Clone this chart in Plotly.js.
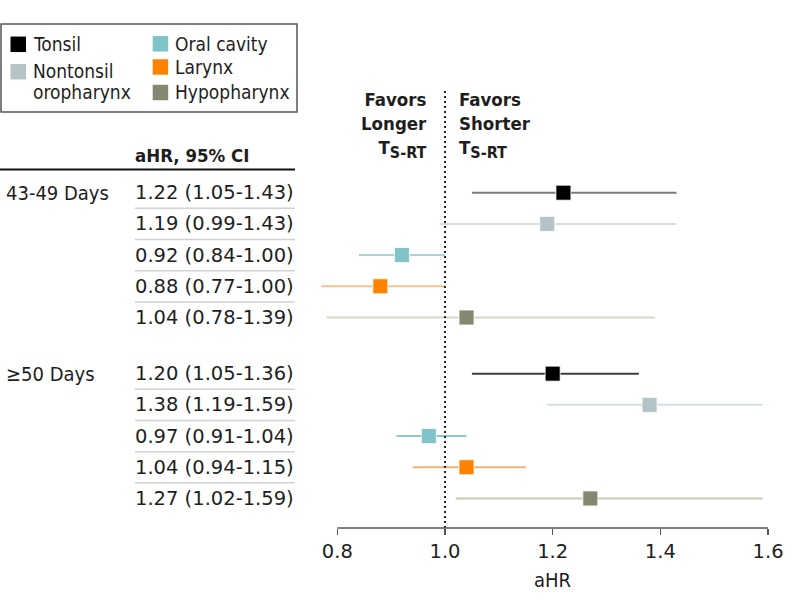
<!DOCTYPE html>
<html>
<head>
<meta charset="utf-8">
<script src="https://cdn.plot.ly/plotly-3.0.1.min.js"></script>
<style>html,body{margin:0;padding:0;background:#fff;}#chart{width:798px;height:612px;}</style>
</head>
<body>
<div id="chart"></div>
<script>
// ---- data ----
const sites = ['Tonsil', 'Nontonsil oropharynx', 'Oral cavity', 'Larynx', 'Hypopharynx'];
const groups = ['43-49 Days', '≥50 Days'];
const hr_43_49 = [1.22, 1.19, 0.92, 0.88, 1.04];
const lo_43_49 = [1.05, 0.99, 0.84, 0.77, 0.78];
const hi_43_49 = [1.43, 1.43, 1.00, 1.00, 1.39];
const hr_50 = [1.20, 1.38, 0.97, 1.04, 1.27];
const lo_50 = [1.05, 1.19, 0.91, 0.94, 1.02];
const hi_50 = [1.36, 1.59, 1.04, 1.15, 1.59];
const xTicks = [0.8, 1.0, 1.2, 1.4, 1.6];
const xTickText = ['0.8', '1.0', '1.2', '1.4', '1.6'];

// ---- styles ----
const W = 798, H = 612, PLOT_H = 528;
const FONT = 'DejaVu Sans Condensed, DejaVu Sans, sans-serif';
const NUMFONT = 'DejaVu Sans, sans-serif';
const TXT = '#1e1e1e';
const markerColors = ['#000000', '#b3c3c6', '#80c3c8', '#ff8200', '#838870'];
const lineColors = [
  ['#7c7c7c', '#d4dddf', '#a8d4d7', '#f5c28e', '#d7d6c7'],
  ['#3c3c3c', '#d4dddf', '#8fc6c9', '#f2b273', '#c9c9b7']
];
const GROUP_OFFSET = 5.8;
const hrs = [hr_43_49, hr_50], los = [lo_43_49, lo_50], his = [hi_43_49, hi_50];
const pos = (g, i) => g * GROUP_OFFSET + i;
const fmt = v => v.toFixed(2);

const px = x => x / W;
const py = y => 1 - y / PLOT_H;

const traces = [];
groups.forEach((g, gi) => {
  sites.forEach((s, si) => {
    traces.push({
      type: 'scatter', mode: 'lines',
      x: [los[gi][si], his[gi][si]], y: [pos(gi, si), pos(gi, si)],
      line: {color: lineColors[gi][si], width: 2},
      showlegend: false, hoverinfo: 'skip'
    });
  });
});
sites.forEach((s, si) => {
  traces.push({
    type: 'scatter', mode: 'markers', name: s,
    x: groups.map((g, gi) => hrs[gi][si]),
    y: groups.map((g, gi) => pos(gi, si)),
    marker: {symbol: 'square', size: 15, color: markerColors[si], line: {color: 'rgba(255,255,255,0.8)', width: 1}},
    showlegend: false, cliponaxis: false
  });
});

const shapes = [];
const annotations = [];
const ann = (text, xpx, ypx, opts) => annotations.push(Object.assign({
  text, xref: 'paper', yref: 'paper', x: px(xpx), y: py(ypx),
  xanchor: 'left', yanchor: 'middle', showarrow: false,
  font: {family: FONT, size: 19, color: TXT}
}, opts || {}));

// legend box
shapes.push({type: 'rect', xref: 'paper', yref: 'paper', x0: px(1), x1: px(297), y0: py(24), y1: py(112),
  line: {color: '#555', width: 1.5}, fillcolor: 'rgba(0,0,0,0)'});
const legPos = [[10.5, 44.3], [10.5, 71.7], [152.7, 43.8], [152.7, 67], [152.7, 92.5]];
const legText = [['Tonsil'], ['Nontonsil', 'oropharynx'], ['Oral cavity'], ['Larynx'], ['Hypopharynx']];
const legTextY = [[43.5], [70.7, 92], [43.5], [67.5], [92.5]];
sites.forEach((s, si) => {
  const [lx, ly] = legPos[si];
  shapes.push({type: 'rect', xref: 'paper', yref: 'paper', x0: px(lx), x1: px(lx + 15.5),
    y0: py(ly - 7.75), y1: py(ly + 7.75), line: {width: 0}, fillcolor: markerColors[si]});
  legText[si].forEach((t, k) => ann(t, lx + 22, legTextY[si][k], {xshift: -2}));
});

// header
ann('<b>aHR, 95% CI</b>', 133, 155, {font: {family: FONT, size: 18.5, color: TXT}});
shapes.push({type: 'line', xref: 'paper', yref: 'paper', x0: px(0), x1: px(295), y0: py(169.5), y1: py(169.5),
  line: {color: '#111', width: 2}});

// rows text
groups.forEach((g, gi) => {
  annotations.push({text: g, xref: 'paper', yref: 'y', x: px(4), y: pos(gi, 0), xanchor: 'left', yanchor: 'middle',
    showarrow: false, font: {family: FONT, size: 20, color: TXT}});
  sites.forEach((s, si) => {
    annotations.push({text: fmt(hrs[gi][si]) + ' (' + fmt(los[gi][si]) + '-' + fmt(his[gi][si]) + ')',
      xref: 'paper', yref: 'y', x: px(133), y: pos(gi, si), xanchor: 'left', yanchor: 'middle',
      showarrow: false, font: {family: NUMFONT, size: 19.5, color: TXT}});
    if (si < sites.length - 1) {
      shapes.push({type: 'line', xref: 'paper', yref: 'y', x0: px(135), x1: px(295),
        y0: pos(gi, si) + 0.5, y1: pos(gi, si) + 0.5, line: {color: '#d2d2d2', width: 1.5}});
    }
  });
});

// reference line at 1.0
shapes.push({type: 'line', xref: 'x', yref: 'paper', x0: 1.0, x1: 1.0, y0: 0, y1: py(88),
  line: {color: '#222', width: 2, dash: '2px,3px'}});
// axis line
shapes.push({type: 'line', xref: 'x', yref: 'paper', x0: xTicks[0], x1: xTicks[xTicks.length - 1], y0: 0, y1: 0,
  line: {color: '#555', width: 1.5}});

// favors labels
const sub = '<sub><span style="font-size:16px">S-RT</span></sub>';
ann('<b>Favors<br>Longer<br>T' + sub + '</b>', 429, 125, {xanchor: 'right', align: 'right',
  font: {family: FONT, size: 18.5, color: TXT}});
ann('<b>Favors<br>Shorter<br>T' + sub + '</b>', 457, 125, {xanchor: 'left', align: 'left',
  font: {family: FONT, size: 18.5, color: TXT}});

// x-axis title
annotations.push({text: 'aHR', xref: 'x', yref: 'paper', x: 1.2, y: 0, yshift: -52, xanchor: 'center', yanchor: 'middle',
  showarrow: false, font: {family: FONT, size: 20, color: TXT}});

const layout = {
  width: W, height: H,
  margin: {l: 0, r: 0, t: 0, b: H - PLOT_H, pad: 0},
  paper_bgcolor: '#fff', plot_bgcolor: '#fff',
  showlegend: false,
  xaxis: {
    range: [0.17352, 1.65568], showgrid: false, zeroline: false, showline: false,
    tickvals: xTicks, ticktext: xTickText, ticks: 'outside', ticklen: 6, tickwidth: 1.5, tickcolor: '#555',
    tickfont: {family: NUMFONT, size: 19.5, color: TXT}, fixedrange: true
  },
  yaxis: {range: [10.747, -6.176], visible: false, showgrid: false, zeroline: false, fixedrange: true},
  shapes, annotations
};
Plotly.newPlot('chart', traces, layout, {displayModeBar: false, staticPlot: true});
</script>
</body>
</html>
